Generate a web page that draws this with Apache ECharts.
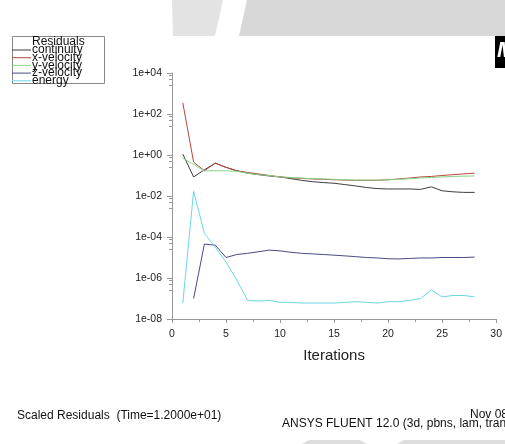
<!DOCTYPE html>
<html>
<head>
<meta charset="utf-8">
<script src="https://cdn.jsdelivr.net/npm/echarts@6/dist/echarts.min.js"></script>
<style>
html,body{margin:0;padding:0;background:#fff;}
#main{width:505px;height:444px;}
</style>
</head>
<body>
<div id="main"></div>
<script>
// 迭代步
var iterations = [1,2,3,4,5,6,7,8,9,10,11,12,13,14,15,16,17,18,19,20,21,22,23,24,25,26,27,28];
var seriesNames = ['continuity','x-velocity','y-velocity','z-velocity','energy'];
var seriesColors = ['#3e3e3e','#b8463c','#86d486','#4a4a86','#6ad8e2'];

var continuity = [1.1,0.085,0.19,0.4,0.25,0.17,0.13,0.11,0.095,0.085,0.07,0.058,0.05,0.045,0.042,0.036,0.031,0.026,0.023,0.022,0.022,0.022,0.021,0.028,0.018,0.016,0.015,0.015];
var xVelocity  = [350,0.45,0.17,0.4,0.25,0.17,0.14,0.12,0.1,0.085,0.078,0.072,0.068,0.065,0.062,0.06,0.058,0.058,0.058,0.062,0.068,0.075,0.085,0.09,0.1,0.11,0.12,0.13];
var yVelocity  = [0.7,0.35,0.17,0.17,0.17,0.16,0.13,0.11,0.1,0.085,0.08,0.075,0.07,0.068,0.065,0.062,0.06,0.06,0.06,0.062,0.065,0.07,0.075,0.08,0.085,0.09,0.093,0.095];
var zVelocity  = [null,1e-7,4.5e-5,4e-5,1e-5,1.4e-5,1.6e-5,1.9e-5,2.3e-5,2.1e-5,1.8e-5,1.6e-5,1.5e-5,1.4e-5,1.3e-5,1.2e-5,1.1e-5,1e-5,9.5e-6,8.7e-6,8.5e-6,9e-6,9.5e-6,9.5e-6,1e-5,1e-5,1e-5,1.05e-5];
var energy     = [6e-8,1.7e-2,1.5e-4,3.2e-5,6e-6,8e-7,8e-8,7.5e-8,8e-8,6.5e-8,6.5e-8,6e-8,6e-8,6e-8,6e-8,6.5e-8,7e-8,6.5e-8,6e-8,7e-8,7e-8,8e-8,1e-7,2.6e-7,1.2e-7,1.4e-7,1.4e-7,1.2e-7];
var allValues = [continuity,xVelocity,yVelocity,zVelocity,energy];

var footLeft = 'Scaled Residuals  (Time=1.2000e+01)';
var footDate = 'Nov 08, 2010';
var footSolver = 'ANSYS FLUENT 12.0 (3d, pbns, lam, transient)';

var FONT = '"Liberation Sans", Arial, sans-serif';

function pairs(vals){
	var out = [];
	for (var i = 0; i < iterations.length; i++){
		if (vals[i] == null) continue;
		out.push([iterations[i], vals[i]]);
	}
	return out;
}

var series = [];
for (var s = 0; s < seriesNames.length; s++){
	series.push({
		name: seriesNames[s],
		type: 'line',
		showSymbol: false,
		symbol: 'none',
		silent: true,
		animation: false,
		lineStyle: {width: 1, color: seriesColors[s]},
		itemStyle: {color: seriesColors[s]},
		data: pairs(allValues[s])
	});
}

var myChart = echarts.init(document.getElementById('main'), null, {renderer: 'canvas'});
var option = {
	backgroundColor: '#ffffff',
	animation: false,
	grid: {left: 172, right: 8, top: 73, bottom: 125, containLabel: false},
	legend: {
		orient: 'vertical',
		left: 12,
		top: 44,
		itemWidth: 19,
		itemHeight: 1,
		itemGap: -4.3,
		itemStyle: {borderWidth: 0},
		icon: 'rect',
		padding: 0,
		textStyle: {fontFamily: FONT, fontSize: 12, color: '#111', padding: [0, 0, 0, -4]},
		data: seriesNames
	},
	xAxis: {
		type: 'value',
		min: 0,
		max: 30,
		interval: 5,
		name: 'Iterations',
		nameLocation: 'middle',
		nameGap: 29,
		nameTextStyle: {fontFamily: FONT, fontSize: 15, color: '#222'},
		axisLine: {lineStyle: {color: '#999', width: 1}},
		axisTick: {show: true, length: 4, lineStyle: {color: '#999'}},
		minorTick: {show: true, splitNumber: 2, length: 3, lineStyle: {color: '#999'}},
		axisLabel: {fontFamily: FONT, fontSize: 10.5, color: '#222', margin: 10},
		splitLine: {show: false}
	},
	yAxis: {
		type: 'log',
		logBase: 10,
		min: 1e-8,
		max: 1e4,
		interval: 2,
		axisLine: {show: true, lineStyle: {color: '#999', width: 1}},
		axisTick: {show: true, length: 5, lineStyle: {color: '#999'}},
		minorTick: {show: true, splitNumber: 4, length: 3, lineStyle: {color: '#999'}},
		axisLabel: {
			fontFamily: FONT, fontSize: 10.5, color: '#222', margin: 10,
			formatter: function(v){
				var e = Math.round(Math.log(v) / Math.LN10);
				var a = Math.abs(e);
				return '1e' + (e < 0 ? '-' : '+') + (a < 10 ? '0' : '') + a;
			}
		},
		splitLine: {show: false}
	},
	graphic: [
		// 顶部灰色条带
		{type: 'polygon', silent: true, z: -1, shape: {points: [[172,0],[223,0],[215,36],[173,36]]}, style: {fill: '#e3e3e3'}},
		{type: 'polygon', silent: true, z: -1, shape: {points: [[247,0],[505,0],[505,36],[239,36]]}, style: {fill: '#d7d7d7'}},
		// 底部灰色
		{type: 'polygon', silent: true, z: -1, shape: {points: [[302,444],[309,440],[360,440],[367,444]]}, style: {fill: '#dedede'}},
		{type: 'polygon', silent: true, z: -1, shape: {points: [[397,444],[404,440],[505,440],[505,444]]}, style: {fill: '#dedede'}},
		// 图例边框
		{type: 'rect', silent: true, shape: {x: 12.5, y: 36.5, width: 92, height: 47}, style: {fill: 'none', stroke: '#888', lineWidth: 1}},
		{type: 'text', silent: true, left: 32, top: 36, style: {text: 'Residuals', fontFamily: FONT, fontSize: 12, fill: '#111'}},
		// 右上角黑块
		{type: 'rect', silent: true, shape: {x: 495, y: 36, width: 10, height: 32}, style: {fill: '#000'}},
		{type: 'text', silent: true, left: 497, top: 40, style: {text: 'M', fontFamily: FONT, fontSize: 22, fontStyle: 'italic', fontWeight: 'bold', fill: '#fff'}},
		// 底部文字
		{type: 'text', silent: true, left: 17, top: 410, style: {text: footLeft, fontFamily: FONT, fontSize: 12, fill: '#111'}},
		{type: 'text', silent: true, left: 470, top: 409, style: {text: footDate, fontFamily: FONT, fontSize: 12, fill: '#111'}},
		{type: 'text', silent: true, left: 282, top: 418, style: {text: footSolver, fontFamily: FONT, fontSize: 12, fill: '#111'}}
	],
	series: series
};
myChart.setOption(option);
</script>
</body>
</html>
